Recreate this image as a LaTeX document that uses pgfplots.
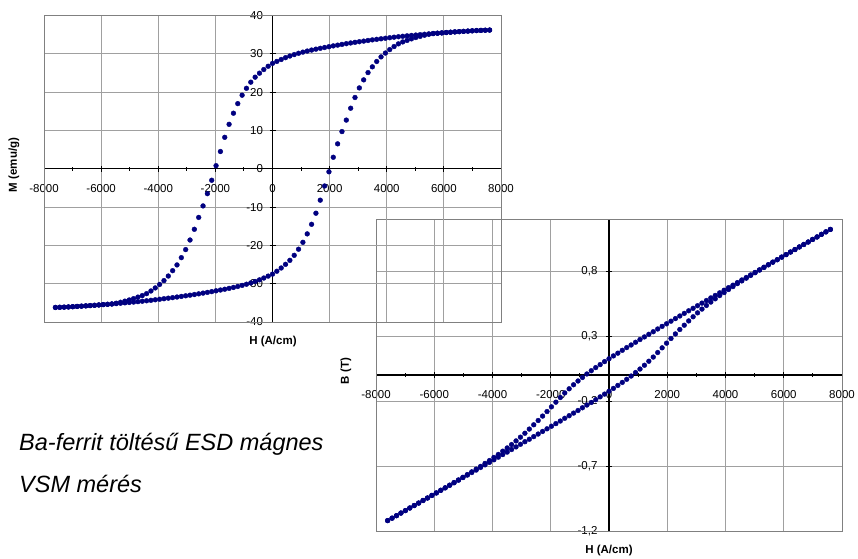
\documentclass[border=0pt]{standalone}
\usepackage{fontspec}
\setmainfont{Liberation Sans}
\usepackage{pgfplots}
\usepackage{pgfplotstable}
\pgfplotsset{compat=1.18}
\definecolor{navy}{RGB}{0,0,128}
\definecolor{gridgray}{RGB}{160,160,160}
\definecolor{framegray}{RGB}{128,128,128}

\pgfplotstableread{
H Mdown Mup
7600 36.20 36.20
7448 36.16 36.16
7296 36.12 36.12
7144 36.07 36.07
6992 36.00 36.00
6840 35.93 35.93
6688 35.86 35.86
6536 35.79 35.79
6384 35.72 35.72
6232 35.64 35.64
6080 35.55 35.55
5928 35.46 35.46
5776 35.38 35.38
5624 35.29 35.29
5472 35.20 35.10
5320 35.10 34.85
5168 35.00 34.55
5016 34.90 34.25
4864 34.80 33.90
4712 34.69 33.50
4560 34.58 33.10
4408 34.46 32.60
4256 34.34 31.90
4104 34.20 31.10
3952 34.06 30.20
3800 33.92 29.20
3648 33.78 28.00
3496 33.64 26.60
3344 33.48 25.10
3192 33.32 23.20
3040 33.16 21.10
2888 33.00 18.60
2736 32.83 15.80
2584 32.65 12.70
2432 32.46 9.70
2280 32.27 6.50
2128 32.07 3.00
1976 31.86 -0.80
1824 31.65 -4.50
1672 31.44 -8.20
1520 31.22 -11.60
1368 30.98 -14.50
1216 30.72 -17.00
1064 30.44 -19.20
912 30.14 -21.00
760 29.80 -22.60
608 29.42 -23.90
456 29.00 -24.95
304 28.52 -25.90
152 28.02 -26.75
0 27.50 -27.50
-152 26.75 -28.02
-304 25.90 -28.52
-456 24.95 -29.00
-608 23.90 -29.42
-760 22.60 -29.80
-912 21.00 -30.14
-1064 19.20 -30.44
-1216 17.00 -30.72
-1368 14.50 -30.98
-1520 11.60 -31.22
-1672 8.20 -31.44
-1824 4.50 -31.65
-1976 0.80 -31.86
-2128 -3.00 -32.07
-2280 -6.50 -32.27
-2432 -9.70 -32.46
-2584 -12.70 -32.65
-2736 -15.80 -32.83
-2888 -18.60 -33.00
-3040 -21.10 -33.16
-3192 -23.20 -33.32
-3344 -25.10 -33.48
-3496 -26.60 -33.64
-3648 -28.00 -33.78
-3800 -29.20 -33.92
-3952 -30.20 -34.06
-4104 -31.10 -34.20
-4256 -31.90 -34.34
-4408 -32.60 -34.46
-4560 -33.10 -34.58
-4712 -33.50 -34.69
-4864 -33.90 -34.80
-5016 -34.25 -34.90
-5168 -34.55 -35.00
-5320 -34.85 -35.10
-5472 -35.10 -35.20
-5624 -35.29 -35.29
-5776 -35.38 -35.38
-5928 -35.46 -35.46
-6080 -35.55 -35.55
-6232 -35.64 -35.64
-6384 -35.72 -35.72
-6536 -35.79 -35.79
-6688 -35.86 -35.86
-6840 -35.93 -35.93
-6992 -36.00 -36.00
-7144 -36.07 -36.07
-7296 -36.12 -36.12
-7448 -36.16 -36.16
-7600 -36.20 -36.20
}\Mtab

\pgfplotstableread{
H Bdown Bup
7600 1.120 1.120
7448 1.101 1.101
7296 1.082 1.082
7144 1.062 1.062
6992 1.043 1.043
6840 1.023 1.023
6688 1.004 1.004
6536 0.985 0.985
6384 0.965 0.965
6232 0.946 0.946
6080 0.926 0.926
5928 0.907 0.907
5776 0.887 0.887
5624 0.868 0.868
5472 0.848 0.848
5320 0.829 0.827
5168 0.809 0.807
5016 0.789 0.787
4864 0.770 0.766
4712 0.750 0.745
4560 0.731 0.724
4408 0.711 0.703
4256 0.691 0.680
4104 0.672 0.658
3952 0.652 0.634
3800 0.632 0.611
3648 0.612 0.586
3496 0.593 0.561
3344 0.573 0.535
3192 0.553 0.507
3040 0.533 0.478
2888 0.513 0.448
2736 0.494 0.416
2584 0.474 0.383
2432 0.454 0.350
2280 0.434 0.316
2128 0.414 0.281
1976 0.394 0.245
1824 0.374 0.209
1672 0.354 0.173
1520 0.333 0.138
1368 0.313 0.106
1216 0.293 0.075
1064 0.273 0.046
912 0.252 0.019
760 0.231 -0.008
608 0.211 -0.033
456 0.190 -0.057
304 0.168 -0.080
152 0.147 -0.103
0 0.125 -0.125
-152 0.103 -0.147
-304 0.080 -0.168
-456 0.057 -0.190
-608 0.033 -0.211
-760 0.008 -0.231
-912 -0.019 -0.252
-1064 -0.046 -0.273
-1216 -0.075 -0.293
-1368 -0.106 -0.313
-1520 -0.138 -0.333
-1672 -0.173 -0.354
-1824 -0.209 -0.374
-1976 -0.245 -0.394
-2128 -0.281 -0.414
-2280 -0.316 -0.434
-2432 -0.350 -0.454
-2584 -0.383 -0.474
-2736 -0.416 -0.494
-2888 -0.448 -0.513
-3040 -0.478 -0.533
-3192 -0.507 -0.553
-3344 -0.535 -0.573
-3496 -0.561 -0.593
-3648 -0.586 -0.612
-3800 -0.611 -0.632
-3952 -0.634 -0.652
-4104 -0.658 -0.672
-4256 -0.680 -0.691
-4408 -0.703 -0.711
-4560 -0.724 -0.731
-4712 -0.745 -0.750
-4864 -0.766 -0.770
-5016 -0.787 -0.789
-5168 -0.807 -0.809
-5320 -0.827 -0.829
-5472 -0.848 -0.848
-5624 -0.868 -0.868
-5776 -0.887 -0.887
-5928 -0.907 -0.907
-6080 -0.926 -0.926
-6232 -0.946 -0.946
-6384 -0.965 -0.965
-6536 -0.985 -0.985
-6688 -1.004 -1.004
-6840 -1.023 -1.023
-6992 -1.043 -1.043
-7144 -1.062 -1.062
-7296 -1.082 -1.082
-7448 -1.101 -1.101
-7600 -1.120 -1.120
}\Btab

\pgfplotsset{
 dots/.style={only marks, mark=*, mark size=2.4pt, color=navy, mark options={solid, draw=navy, fill=navy}},
 excel/.style={
  scale only axis, anchor=south west,
  axis lines=middle, axis line style={-, black, line width=1.2pt},
  grid=major, major grid style={gridgray, line width=0.9pt},
  tick align=center, major tick length=6pt, minor tick length=4pt,
  tick style={black, line width=0.9pt},
  minor x tick num=1,
  hide obscured x ticks=false, hide obscured y ticks=false,
  ticklabel style={font=\fontsize{11.5}{13}\selectfont},
  xticklabel style={yshift=-9pt},
  clip=false,
  xmin=-8000, xmax=8000,
  xtick={-8000,-6000,...,8000},
  xticklabels={-8000,-6000,-4000,-2000,0,2000,4000,6000,8000},
}}

\begin{document}
\begin{tikzpicture}[x=1pt,y=1pt]
\useasboundingbox (0,0) rectangle (858,558);

% bottom B-H axis
\begin{axis}[excel, at={(376pt,27pt)}, width=466pt, height=312pt,
  ymin=-1.2, ymax=1.2,
  ytick={-1.2,-0.7,-0.2,0.3,0.8},
  yticklabels={{-1,2},{-0,7},{-0,2},{0,3},{0,8}},
  yticklabel style={xshift=-5pt}]
\draw[framegray, line width=0.9pt] (rel axis cs:0,0) rectangle (rel axis cs:1,1);
\addplot[dots] table[x=H, y=Bdown] {\Btab};
\addplot[dots] table[x=H, y=Bup] {\Btab};
\end{axis}

% top M-H axis
\begin{axis}[excel, at={(44pt,236pt)}, width=457pt, height=306.5pt,
  ymin=-40, ymax=40,
  ytick={-40,-30,...,40},
  yticklabels={-40,-30,-20,-10,0,10,20,30,40},
  yticklabel style={xshift=-3pt}]
\draw[framegray, line width=0.9pt] (rel axis cs:0,0) rectangle (rel axis cs:1,1);
\addplot[dots] table[x=H, y=Mdown] {\Mtab};
\addplot[dots] table[x=H, y=Mup] {\Mtab};
\end{axis}

\node[rotate=90, font=\bfseries\fontsize{11.5}{13}\selectfont] at (14,393) {M (emu/g)};
\node[font=\bfseries\fontsize{11.5}{13}\selectfont] at (273,216) {H (A/cm)};
\node[font=\bfseries\fontsize{11.5}{13}\selectfont] at (609,7) {H (A/cm)};
\node[rotate=90, font=\bfseries\fontsize{11.5}{13}\selectfont] at (346,187) {B (T)};
\node[anchor=base west, inner sep=0pt, font=\itshape\fontsize{23.5}{28}\selectfont] at (19,108) {Ba-ferrit töltésű ESD mágnes};
\node[anchor=base west, inner sep=0pt, font=\itshape\fontsize{23.5}{28}\selectfont] at (19,66) {VSM mérés};
\end{tikzpicture}
\end{document}
